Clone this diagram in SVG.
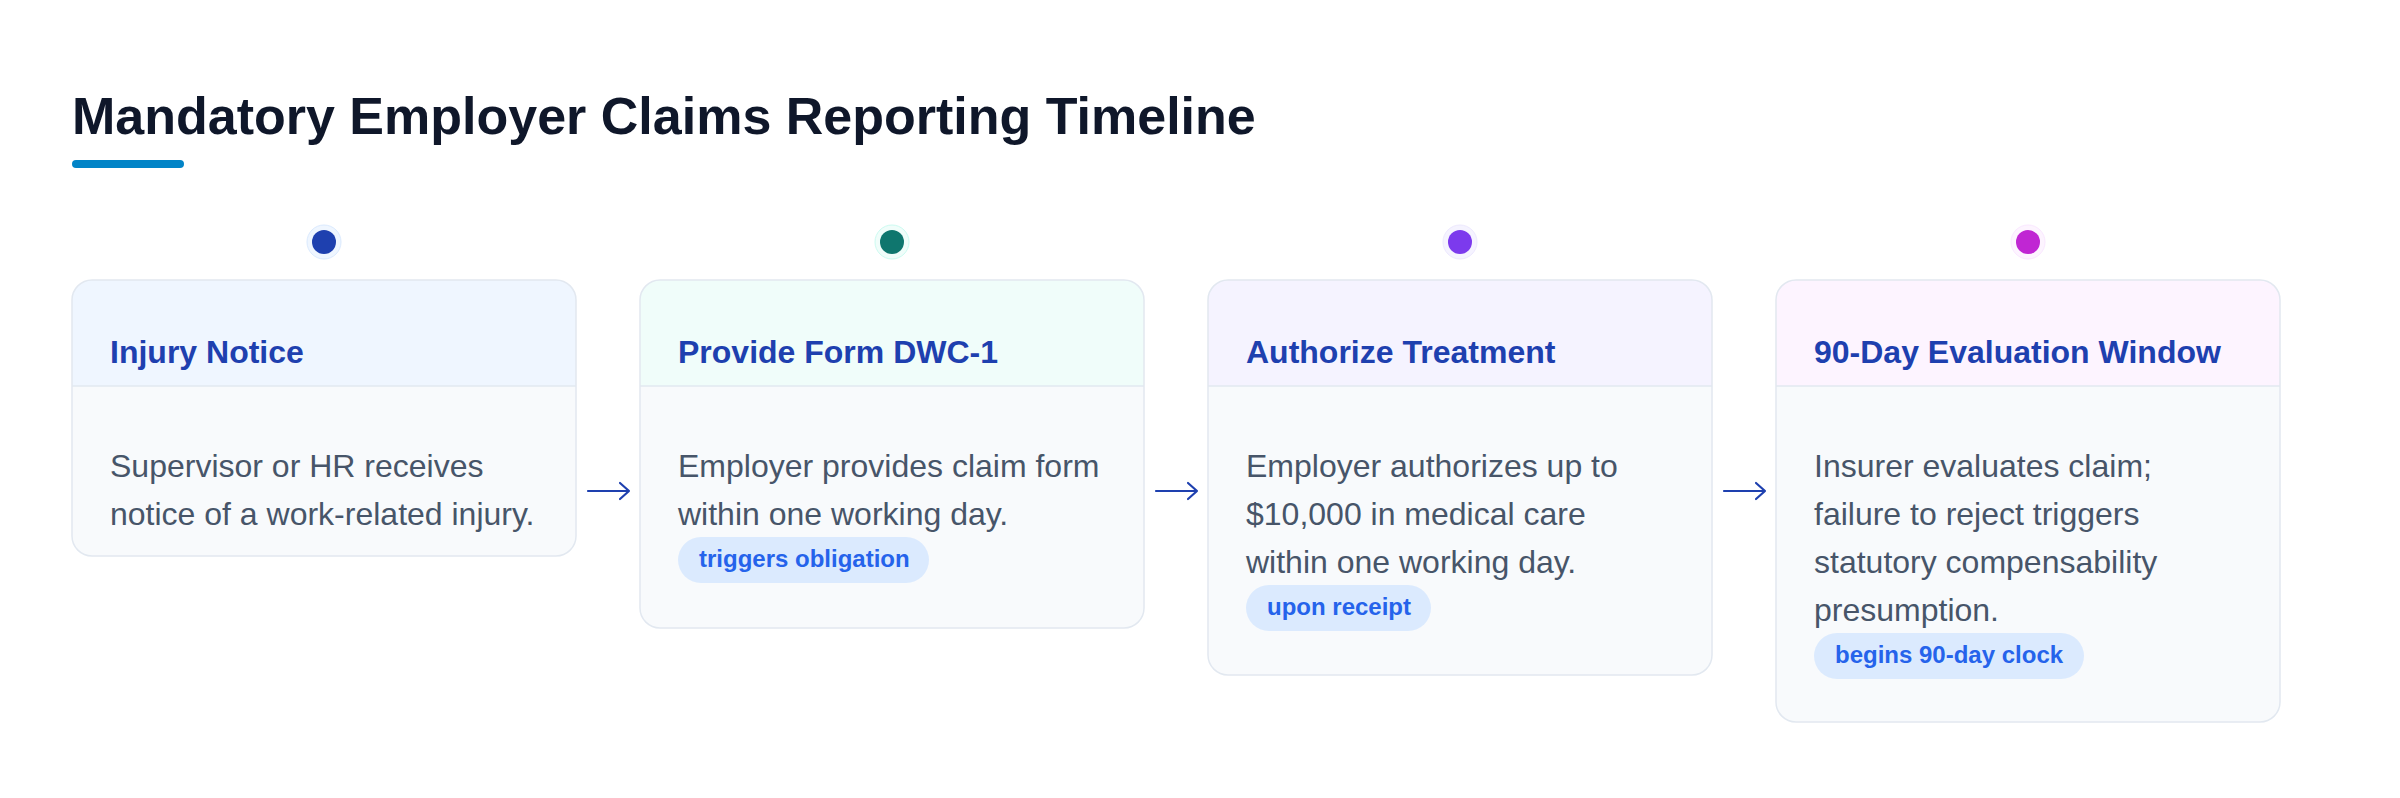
<svg xmlns="http://www.w3.org/2000/svg" width="2400" height="798" viewBox="0 0 2400 798">
<defs>
<style>
.title{font-family:"Liberation Sans",Arial,sans-serif;font-weight:700;font-size:52px;fill:#0f172a}
.card{stroke:#e2e8f0;stroke-width:1.5;fill:none}
.body{fill:#f8fafc}
.div{stroke:#e2e8f0;stroke-width:1.5}
.ct{font-family:"Liberation Sans",Arial,sans-serif;font-weight:700;font-size:32px;fill:#1e40af}
.bt{font-family:"Liberation Sans",Arial,sans-serif;font-size:32px;fill:#475569}
.pill{fill:#dbeafe}
.pt{font-family:"Liberation Sans",Arial,sans-serif;font-weight:700;font-size:24px;fill:#2563eb}
.arr{stroke:#1e40af;stroke-width:2.2;fill:none;stroke-linecap:round;stroke-linejoin:round}
</style>
</defs>
<rect width="2400" height="798" fill="#ffffff"/>
<g id="header">
<text class="title" x="72" y="134">Mandatory Employer Claims Reporting Timeline</text>
<rect x="72" y="160" width="112" height="8" rx="4" fill="#0284c7"/>
</g>
<g id="step1">
<circle cx="324" cy="242" r="17" fill="#eff6ff" stroke="#dbeafe" stroke-width="1"/>
<circle cx="324" cy="242" r="12" fill="#1e40af"/>
<rect class="body" x="72" y="280" width="504" height="276" rx="20"/>
<path d="M72,386 V300 A20,20 0 0 1 92,280 H556 A20,20 0 0 1 576,300 V386 Z" fill="#eff6ff"/>
<line class="div" x1="72" y1="386" x2="576" y2="386"/>
<rect class="card" x="72" y="280" width="504" height="276" rx="20"/>
<text class="ct" x="110" y="363">Injury Notice</text>
<text class="bt"><tspan x="110" y="477">Supervisor or HR receives</tspan><tspan x="110" y="525">notice of a work-related injury.</tspan></text>
</g>
<g id="step2">
<circle cx="892" cy="242" r="17" fill="#f0fdfa" stroke="#ccfbf1" stroke-width="1"/>
<circle cx="892" cy="242" r="12" fill="#0f766e"/>
<rect class="body" x="640" y="280" width="504" height="348" rx="20"/>
<path d="M640,386 V300 A20,20 0 0 1 660,280 H1124 A20,20 0 0 1 1144,300 V386 Z" fill="#f0fdfa"/>
<line class="div" x1="640" y1="386" x2="1144" y2="386"/>
<rect class="card" x="640" y="280" width="504" height="348" rx="20"/>
<text class="ct" x="678" y="363">Provide Form DWC-1</text>
<text class="bt"><tspan x="678" y="477">Employer provides claim form</tspan><tspan x="678" y="525">within one working day.</tspan></text>
<rect class="pill" x="678" y="537" width="251" height="46" rx="23"/>
<text class="pt" x="699" y="567">triggers obligation</text>
</g>
<g id="step3">
<circle cx="1460" cy="242" r="17" fill="#f5f3ff" stroke="#ede9fe" stroke-width="1"/>
<circle cx="1460" cy="242" r="12" fill="#7c3aed"/>
<rect class="body" x="1208" y="280" width="504" height="395" rx="20"/>
<path d="M1208,386 V300 A20,20 0 0 1 1228,280 H1692 A20,20 0 0 1 1712,300 V386 Z" fill="#f5f3ff"/>
<line class="div" x1="1208" y1="386" x2="1712" y2="386"/>
<rect class="card" x="1208" y="280" width="504" height="395" rx="20"/>
<text class="ct" x="1246" y="363">Authorize Treatment</text>
<text class="bt"><tspan x="1246" y="477">Employer authorizes up to</tspan><tspan x="1246" y="525">$10,000 in medical care</tspan><tspan x="1246" y="573">within one working day.</tspan></text>
<rect class="pill" x="1246" y="585" width="185" height="46" rx="23"/>
<text class="pt" x="1267" y="615">upon receipt</text>
</g>
<g id="step4">
<circle cx="2028" cy="242" r="17" fill="#fdf4ff" stroke="#fae8ff" stroke-width="1"/>
<circle cx="2028" cy="242" r="12" fill="#c026d3"/>
<rect class="body" x="1776" y="280" width="504" height="442" rx="20"/>
<path d="M1776,386 V300 A20,20 0 0 1 1796,280 H2260 A20,20 0 0 1 2280,300 V386 Z" fill="#fdf4ff"/>
<line class="div" x1="1776" y1="386" x2="2280" y2="386"/>
<rect class="card" x="1776" y="280" width="504" height="442" rx="20"/>
<text class="ct" x="1814" y="363">90-Day Evaluation Window</text>
<text class="bt"><tspan x="1814" y="477">Insurer evaluates claim;</tspan><tspan x="1814" y="525">failure to reject triggers</tspan><tspan x="1814" y="573">statutory compensability</tspan><tspan x="1814" y="621">presumption.</tspan></text>
<rect class="pill" x="1814" y="633" width="270" height="46" rx="23"/>
<text class="pt" x="1835" y="663">begins 90-day clock</text>
</g>
<g id="connectors">
<path class="arr" d="M588,491 H629 M620,483 L629,491 L620,499"/>
<path class="arr" d="M1156,491 H1197 M1188,483 L1197,491 L1188,499"/>
<path class="arr" d="M1724,491 H1765 M1756,483 L1765,491 L1756,499"/>
</g>
</svg>
